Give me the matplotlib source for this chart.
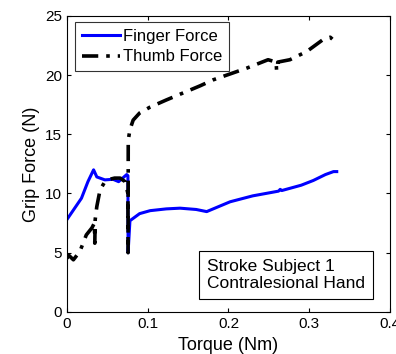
import matplotlib
matplotlib.use("Agg")
import matplotlib.pyplot as plt

plt.rcParams['font.family'] = ['Liberation Sans', 'DejaVu Sans']

# Finger force (blue)
finger_x = [0.0, 0.008, 0.018, 0.026, 0.033, 0.037, 0.047, 0.057, 0.064, 0.074,
            0.0755, 0.0757, 0.078, 0.090, 0.103, 0.123, 0.140, 0.160, 0.173,
            0.202, 0.230, 0.262, 0.264, 0.266, 0.290, 0.305, 0.320, 0.330, 0.334]
finger_y = [7.8, 8.6, 9.6, 11.0, 12.0, 11.4, 11.15, 11.2, 11.0, 11.6,
            11.5, 5.0, 7.7, 8.3, 8.55, 8.7, 8.76, 8.65, 8.47,
            9.3, 9.8, 10.2, 10.35, 10.25, 10.7, 11.1, 11.6, 11.85, 11.85]

# Thumb force (black dash-dot)
thumb_x = [0.0, 0.002, 0.008, 0.016, 0.024, 0.031, 0.034, 0.0345, 0.035, 0.037,
           0.041, 0.047, 0.053, 0.059, 0.066, 0.072, 0.0755, 0.0757, 0.0759,
           0.078, 0.082, 0.090, 0.103, 0.123, 0.144, 0.165, 0.181, 0.223,
           0.249, 0.259, 0.2595, 0.2605, 0.261, 0.276, 0.297, 0.317, 0.326, 0.334]
thumb_y = [4.5, 4.8, 4.4, 5.1, 6.5, 7.1, 7.5, 5.8, 7.8, 8.9,
           10.3, 11.0, 11.2, 11.3, 11.3, 11.0, 10.0, 5.0, 14.5,
           15.4, 16.2, 16.8, 17.3, 17.9, 18.5, 19.1, 19.6, 20.6,
           21.3, 21.1, 20.4, 20.4, 21.1, 21.3, 22.0, 23.0, 23.2, 22.7]

fig = plt.figure(figsize=(3.96, 3.54), dpi=100)
ax = fig.add_axes([0.169, 0.119, 0.816, 0.836])

ax.plot(finger_x, finger_y, color='#0000ff', lw=2.2, label='Finger Force')
ax.plot(thumb_x, thumb_y, color='black', lw=2.6, dashes=(4.5, 2.2, 1, 2.2),
        label='Thumb Force')

ax.set_xlim(0, 0.4)
ax.set_ylim(0, 25)
ax.set_xticks([0, 0.1, 0.2, 0.3, 0.4])
ax.set_xticklabels(['0', '0.1', '0.2', '0.3', '0.4'])
ax.set_yticks([0, 5, 10, 15, 20, 25])
ax.tick_params(direction='in', top=True, right=True, labelsize=11, length=3)
ax.set_xlabel('Torque (Nm)', fontsize=13, labelpad=4.5)
ax.set_ylabel('Grip Force (N)', fontsize=13, labelpad=4)

leg = ax.legend(loc='upper left', bbox_to_anchor=(0.025, 0.98), borderaxespad=0,
                fontsize=12, frameon=True, fancybox=False, edgecolor='black',
                handlelength=2.3, handletextpad=0.2, labelspacing=0.35,
                borderpad=0.4)
leg.get_frame().set_linewidth(0.8)

ax.text(0.678, 0.125, 'Stroke Subject 1\nContralesional Hand', transform=ax.transAxes,
        ha='center', va='center', multialignment='left', fontsize=12.5,
        bbox=dict(boxstyle='square,pad=0.45', facecolor='white', edgecolor='black',
                  linewidth=0.8))

fig.savefig('out.png', dpi=100)
